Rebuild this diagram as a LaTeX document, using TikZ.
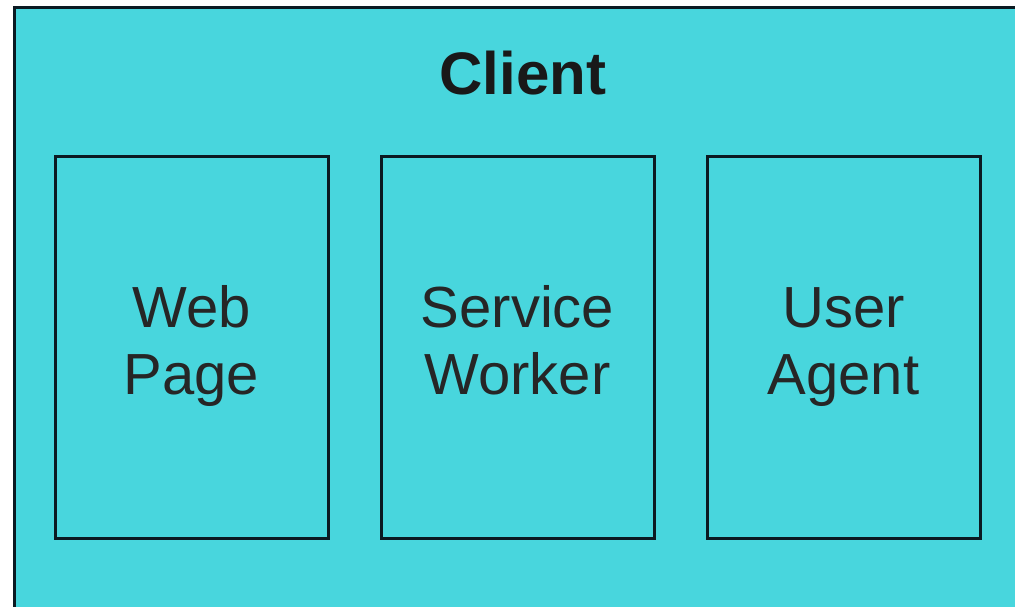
\documentclass[tikz,border=0pt]{standalone}
\usepackage{fontspec}
\setmainfont{Liberation Sans}
\definecolor{cyanbg}{HTML}{48D6DD}
\definecolor{edge}{HTML}{0B1A22}
\begin{document}
\begin{tikzpicture}[x=1pt,y=-1pt,
  part/.style={draw=edge,line width=3pt,minimum width=273pt,minimum height=381pt,inner sep=0pt,align=center,
    font=\fontsize{58}{67}\selectfont,text=black!85}]
\useasboundingbox (0,0) rectangle (1015,607);
\fill[white] (0,0) rectangle (1015,607);
\draw[draw=edge,line width=3pt,fill=cyanbg] (14,8) rectangle (1030,620);
\node[font=\bfseries\fontsize{60}{70}\selectfont,text=black!90] (client) at (523,73) {Client};
\node[part] (web) at (191.5,347.5) {Web\strut\\Page\strut};
\node[part] (sw) at (517.5,347.5) {Service\strut\\Worker\strut};
\node[part] (ua) at (843.5,347.5) {User\strut\\Agent\strut};
\end{tikzpicture}
\end{document}
